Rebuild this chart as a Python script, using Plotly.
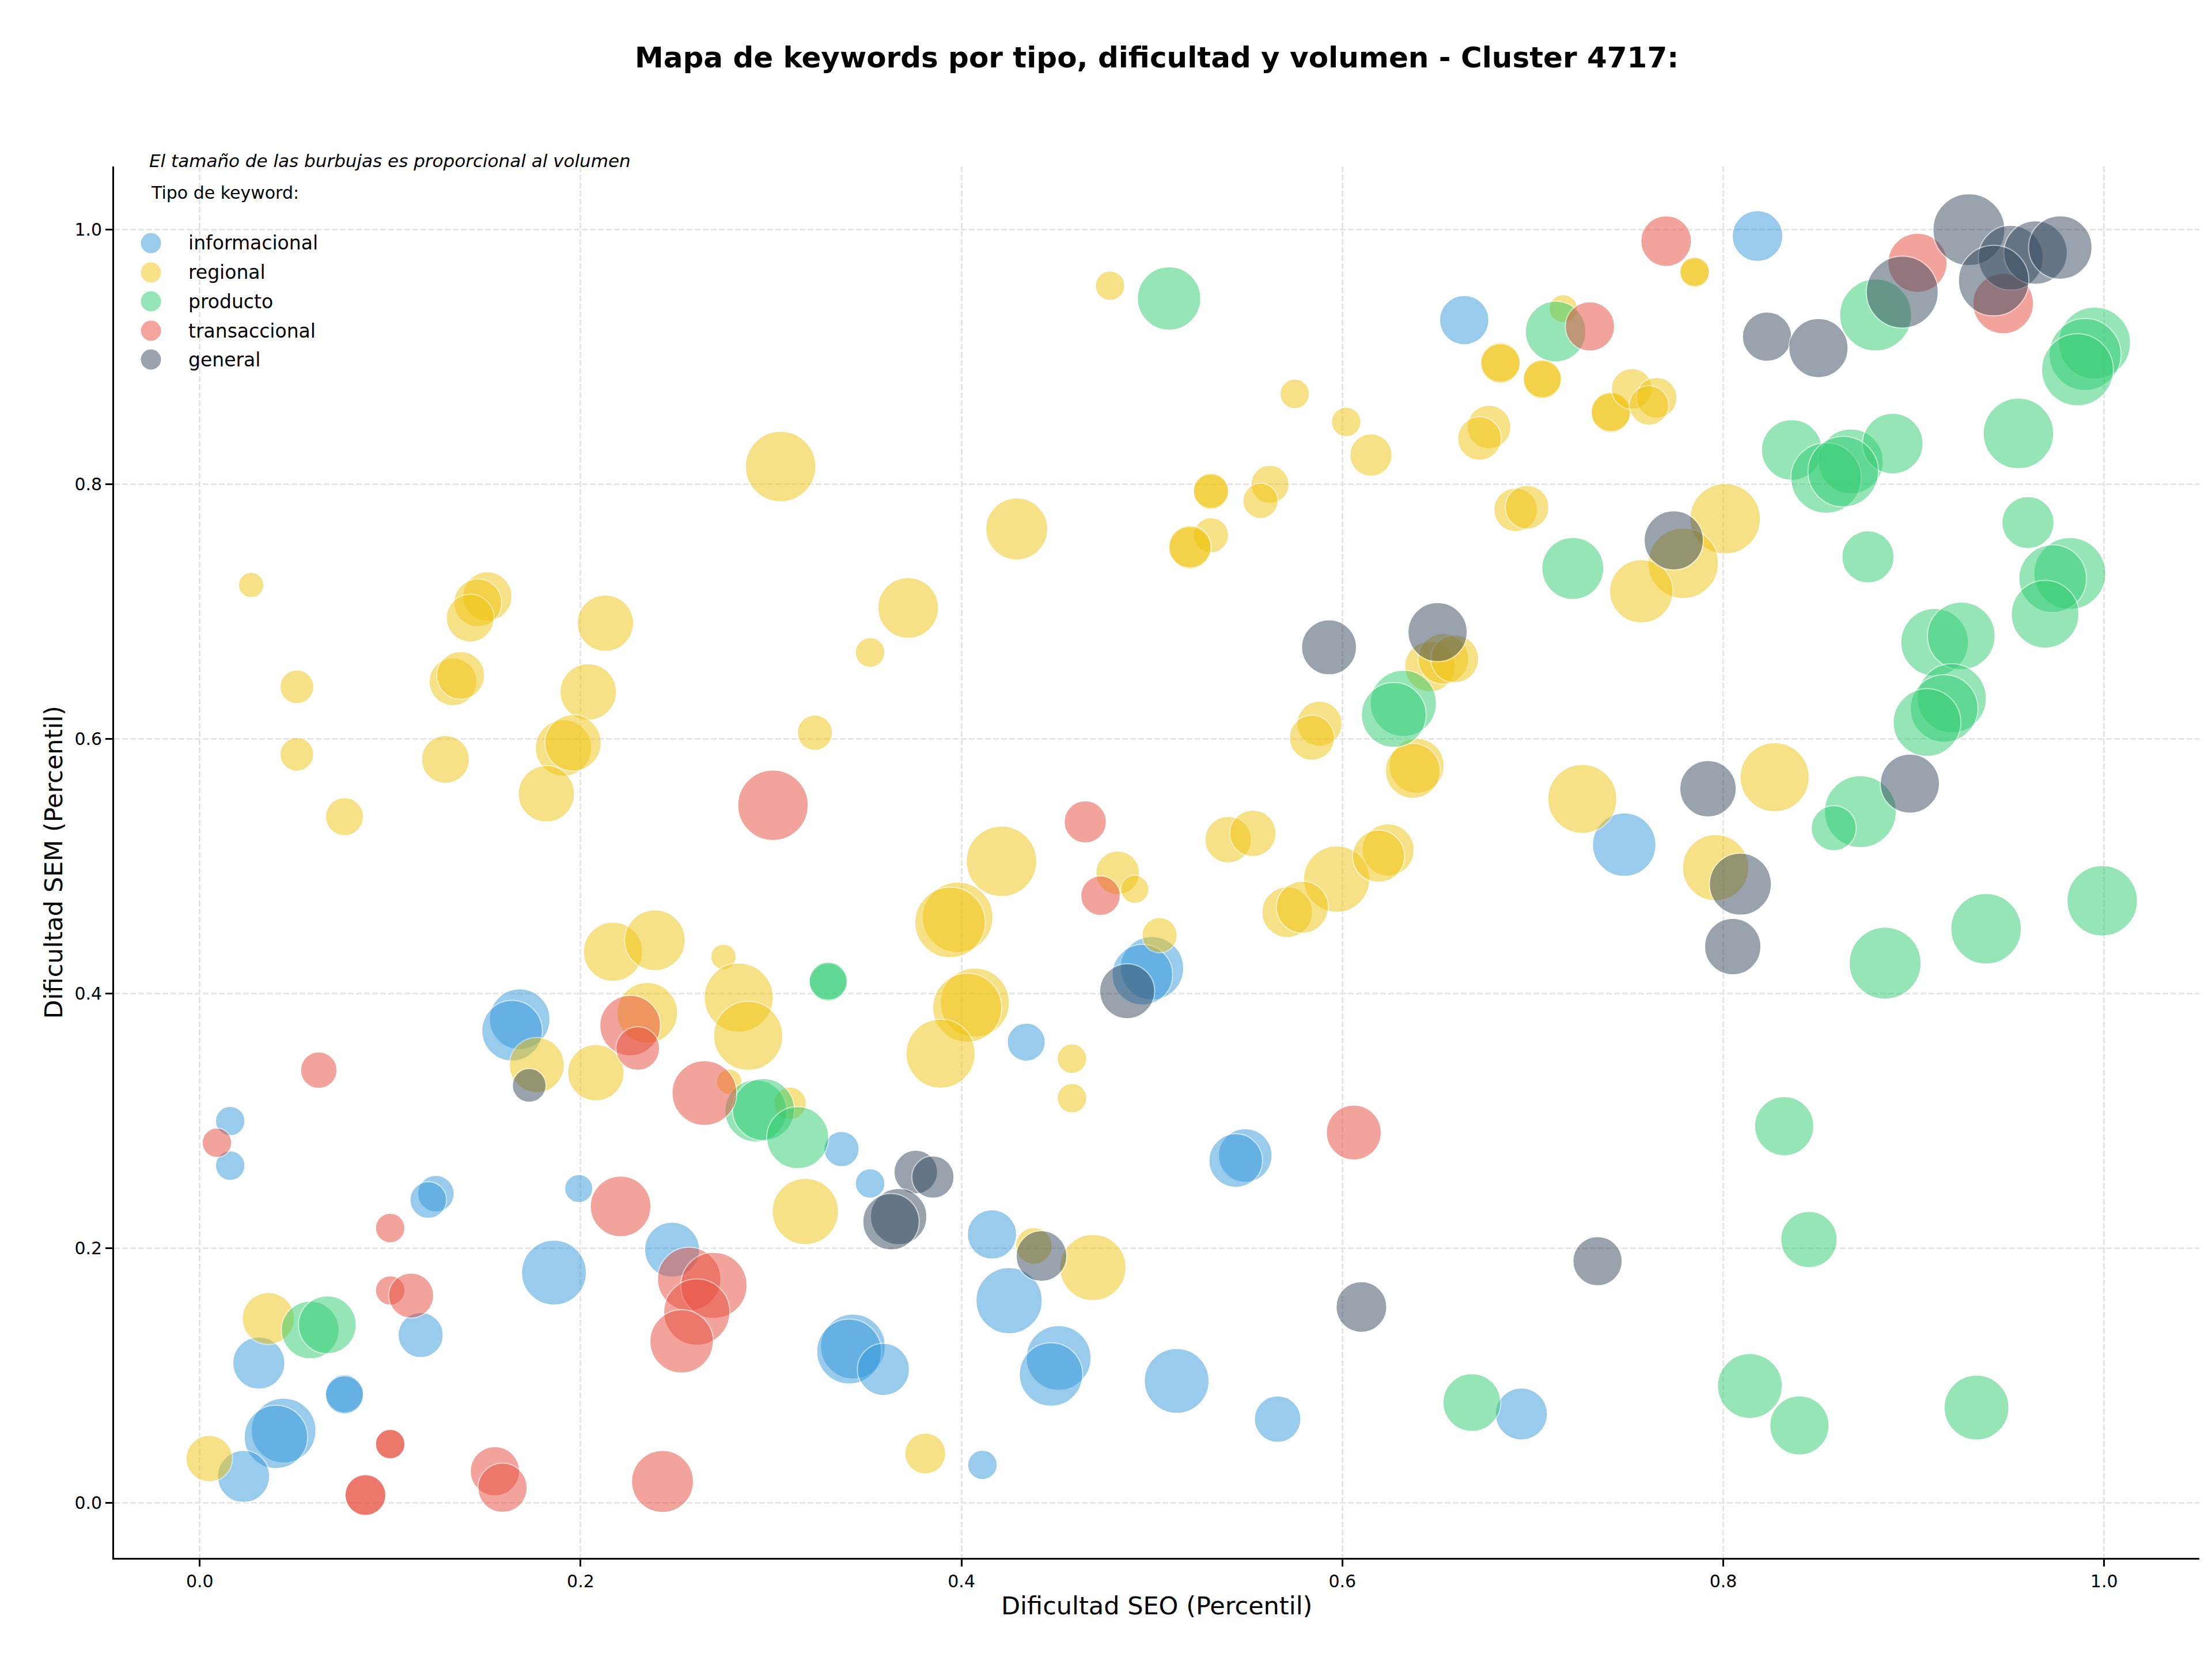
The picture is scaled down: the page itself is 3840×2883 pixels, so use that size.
import numpy as np
import plotly.graph_objects as go

# ---------------- data ----------------
categorias = ["informacional", "regional", "producto", "transaccional", "general"]
colores = ["#3498db", "#f1c40f", "#2ecc71", "#e74c3c", "#34495e"]

info_seo = [0.818, 0.664, 0.748, 0.500, 0.495, 0.434, 0.168, 0.164, 0.016, 0.016,
            0.124, 0.120, 0.199, 0.116, 0.186, 0.248, 0.031, 0.044, 0.040, 0.023,
            0.076, 0.076, 0.337, 0.352, 0.343, 0.341, 0.359, 0.416, 0.425, 0.451,
            0.447, 0.513, 0.549, 0.544, 0.411, 0.566, 0.694]
info_sem = [0.995, 0.929, 0.517, 0.420, 0.415, 0.362, 0.380, 0.371, 0.300, 0.265,
            0.243, 0.238, 0.247, 0.132, 0.181, 0.199, 0.110, 0.057, 0.052, 0.021,
            0.086, 0.085, 0.278, 0.251, 0.123, 0.119, 0.105, 0.211, 0.159, 0.114,
            0.101, 0.096, 0.273, 0.269, 0.030, 0.066, 0.070]
info_vol = [2590, 2450, 4050, 4050, 3700, 1460, 3700, 3700, 880, 880,
            1350, 1350, 800, 2050, 4230, 3040, 2740, 4230, 4050, 2740,
            1460, 1460, 1250, 880, 4230, 4230, 2740, 2450, 4420, 4230,
            4050, 4230, 2890, 2890, 880, 2180, 2740]

reg_seo = [0.478, 0.305, 0.027, 0.429, 0.372, 0.151, 0.146, 0.142, 0.213, 0.051,
           0.133, 0.137, 0.204, 0.051, 0.129, 0.191, 0.196, 0.182, 0.076, 0.323,
           0.352, 0.575, 0.602, 0.615, 0.531, 0.531, 0.562, 0.557, 0.531, 0.520,
           0.520, 0.683, 0.683, 0.705, 0.705, 0.716, 0.785, 0.785, 0.677, 0.672,
           0.741, 0.741, 0.752, 0.765, 0.761, 0.691, 0.697, 0.801, 0.779, 0.757,
           0.646, 0.653, 0.659, 0.588, 0.584, 0.639, 0.637, 0.540, 0.553, 0.597,
           0.624, 0.619, 0.571, 0.579, 0.482, 0.491, 0.421, 0.398, 0.394, 0.504,
           0.407, 0.403, 0.389, 0.458, 0.458, 0.726, 0.827, 0.796, 0.217, 0.239,
           0.275, 0.283, 0.288, 0.177, 0.208, 0.235, 0.278, 0.310, 0.318, 0.036,
           0.005, 0.438, 0.469, 0.381]
reg_sem = [0.956, 0.814, 0.721, 0.765, 0.703, 0.712, 0.707, 0.695, 0.691, 0.641,
           0.645, 0.650, 0.637, 0.588, 0.584, 0.593, 0.597, 0.557, 0.539, 0.605,
           0.668, 0.871, 0.849, 0.823, 0.794, 0.795, 0.800, 0.787, 0.760, 0.750,
           0.751, 0.896, 0.895, 0.882, 0.883, 0.938, 0.966, 0.967, 0.845, 0.836,
           0.856, 0.857, 0.875, 0.868, 0.862, 0.780, 0.782, 0.773, 0.738, 0.716,
           0.657, 0.663, 0.663, 0.612, 0.601, 0.579, 0.575, 0.521, 0.526, 0.490,
           0.513, 0.508, 0.464, 0.468, 0.495, 0.482, 0.504, 0.460, 0.456, 0.446,
           0.393, 0.389, 0.353, 0.349, 0.318, 0.553, 0.570, 0.499, 0.433, 0.442,
           0.429, 0.397, 0.367, 0.344, 0.338, 0.385, 0.331, 0.314, 0.229, 0.145,
           0.035, 0.202, 0.185, 0.039]
reg_vol = [880, 5000, 650, 3870, 3700, 2450, 2310, 2310, 3200, 1150,
           2310, 2310, 3200, 1150, 2310, 3200, 3200, 3200, 1460, 1250,
           880, 880, 880, 1800, 1250, 1250, 1460, 1250, 1250, 1800,
           1800, 1570, 1570, 1460, 1460, 800, 880, 880, 1920, 1920,
           1570, 1570, 1680, 1680, 1570, 1920, 1920, 5000, 5000, 4050,
           2590, 2590, 2310, 2050, 2050, 3040, 3040, 2180, 2180, 4420,
           2740, 2740, 2590, 2740, 1920, 800, 5000, 5000, 5000, 1250,
           4800, 4800, 4800, 880, 880, 4800, 4800, 4420, 3530, 3700,
           650, 4800, 4800, 3040, 3200, 3700, 650, 1060, 4420, 2740,
           2180, 1350, 4420, 1680]

prod_seo = [0.509, 0.712, 0.880, 0.995, 0.990, 0.986, 0.955, 0.836, 0.867, 0.889,
            0.854, 0.863, 0.960, 0.876, 0.982, 0.973, 0.969, 0.721, 0.911, 0.925,
            0.920, 0.916, 0.907, 0.872, 0.858, 0.885, 0.938, 0.999, 0.632, 0.627,
            0.330, 0.330, 0.292, 0.296, 0.314, 0.058, 0.067, 0.832, 0.845, 0.814,
            0.840, 0.933, 0.668]
prod_sem = [0.946, 0.920, 0.933, 0.911, 0.902, 0.890, 0.840, 0.827, 0.818, 0.832,
            0.805, 0.810, 0.770, 0.743, 0.730, 0.726, 0.698, 0.734, 0.676, 0.681,
            0.632, 0.624, 0.613, 0.543, 0.530, 0.424, 0.451, 0.473, 0.628, 0.619,
            0.409, 0.410, 0.308, 0.309, 0.287, 0.136, 0.140, 0.296, 0.207, 0.092,
            0.061, 0.075, 0.079]
prod_vol = [4050, 3700, 5200, 5200, 5200, 5200, 5000, 3700, 4230, 3700,
            5000, 5000, 2740, 2740, 5200, 4610, 4610, 3870, 4610, 4610,
            4800, 4610, 4610, 5200, 2050, 5200, 5000, 5000, 4420, 4230,
            1460, 1460, 3870, 3870, 3870, 3360, 3360, 3530, 3200, 4230,
            3530, 4230, 3360]

trans_seo = [0.770, 0.902, 0.947, 0.730, 0.301, 0.465, 0.473, 0.606, 0.0625, 0.226,
             0.230, 0.265, 0.009, 0.100, 0.221, 0.100, 0.111, 0.257, 0.270, 0.261,
             0.253, 0.100, 0.100, 0.087, 0.087, 0.155, 0.159, 0.243]
trans_sem = [0.991, 0.974, 0.942, 0.924, 0.548, 0.535, 0.477, 0.291, 0.340, 0.375,
             0.357, 0.322, 0.283, 0.216, 0.233, 0.167, 0.163, 0.176, 0.171, 0.150,
             0.127, 0.046, 0.0465, 0.006, 0.0065, 0.025, 0.012, 0.017]
trans_vol = [2590, 3530, 3700, 2450, 5000, 1800, 1570, 3040, 1350, 3700,
             1920, 4230, 880, 880, 3700, 880, 2050, 4050, 4420, 4420,
             4050, 880, 880, 1680, 1680, 2450, 2450, 3870]

gen_seo = [0.929, 0.951, 0.964, 0.977, 0.942, 0.894, 0.823, 0.850, 0.774, 0.650,
           0.593, 0.898, 0.792, 0.809, 0.805, 0.487, 0.173, 0.376, 0.385, 0.367,
           0.363, 0.442, 0.610, 0.734]
gen_sem = [1.000, 0.978, 0.982, 0.986, 0.960, 0.951, 0.916, 0.907, 0.756, 0.684,
           0.672, 0.565, 0.561, 0.486, 0.437, 0.402, 0.328, 0.260, 0.256, 0.225,
           0.221, 0.194, 0.154, 0.190]
gen_vol = [5200, 4230, 4050, 4050, 5000, 5200, 2450, 3530, 3530, 3530,
           3040, 3530, 3200, 3870, 3200, 3040, 1150, 1920, 1800, 3200,
           3200, 2590, 2590, 2450]

series = [
    (info_seo, info_sem, info_vol),
    (reg_seo, reg_sem, reg_vol),
    (prod_seo, prod_sem, prod_vol),
    (trans_seo, trans_sem, trans_vol),
    (gen_seo, gen_sem, gen_vol),
]

titulo = "Mapa de keywords por tipo, dificultad y volumen - Cluster 4717:"
nota = "El tamaño de las burbujas es proporcional al volumen"
titulo_leyenda = "Tipo de keyword:"
eje_x = "Dificultad SEO (Percentil)"
eje_y = "Dificultad SEM (Percentil)"

# ---------------- figure ----------------
W, H = 3840, 2883
L, R, T, B = 198, 22, 289, 179
PW, PH = W - L - R, H - T - B

def px_x(p):
    return (p - L) / PW

def px_y(p):
    return (H - B - p) / PH

SIZE_K = 1.732  # diameter (px) per sqrt(volume)
FONT = "DejaVu Sans"

fig = go.Figure()
for (sx, sy, vol), nombre, col in zip(series, categorias, colores):
    fig.add_trace(go.Scatter(
        x=sx, y=sy, mode="markers", name=nombre, showlegend=False,
        marker=dict(size=SIZE_K * np.sqrt(np.array(vol, dtype=float)),
                    sizemode="diameter", color=col, opacity=0.5,
                    line=dict(color="white", width=2)),
    ))

axis_common = dict(
    showline=True, linecolor="black", linewidth=2.7, mirror=False,
    ticks="outside", ticklen=12, tickwidth=2.7, tickcolor="black",
    tickfont=dict(family=FONT, size=30, color="black"),
    showgrid=True, gridcolor="#e6e6e6", gridwidth=2.5, griddash="10px,4px",
    zeroline=False, tick0=0, dtick=0.2, tickformat=".1f",
)

fig.update_layout(
    width=W, height=H, autosize=False,
    margin=dict(l=L, r=R, t=T, b=B, pad=0),
    paper_bgcolor="white", plot_bgcolor="white",
    font=dict(family=FONT, color="black"),
    xaxis=dict(range=[-0.045, 1.050], **axis_common),
    yaxis=dict(range=[-0.043, 1.0496], **axis_common),
    showlegend=False,
)

# title
fig.add_annotation(text=f"<b>{titulo}</b>", xref="paper", yref="paper",
                   x=0.5, y=px_y(100), xanchor="center", yanchor="middle",
                   showarrow=False, font=dict(family=FONT, size=50, color="black"))
# axis titles
fig.add_annotation(text=eje_x, xref="paper", yref="paper", x=0.5, y=px_y(2787),
                   xanchor="center", yanchor="middle", showarrow=False,
                   font=dict(family=FONT, size=43, color="black"))
fig.add_annotation(text=eje_y, xref="paper", yref="paper", x=px_x(92), y=0.5,
                   xanchor="center", yanchor="middle", textangle=-90, showarrow=False,
                   font=dict(family=FONT, size=43, color="black"))
# note and legend title
fig.add_annotation(text=f"<i>{nota}</i>", xref="paper", yref="paper",
                   x=px_x(257), y=px_y(279), xanchor="left", yanchor="middle",
                   showarrow=False, font=dict(family=FONT, size=31, color="black"))
fig.add_annotation(text=titulo_leyenda, xref="paper", yref="paper",
                   x=px_x(260), y=px_y(334), xanchor="left", yanchor="middle",
                   showarrow=False, font=dict(family=FONT, size=30, color="black"))

# custom legend (large markers)
leg_rows = [422, 473, 523, 574, 624]
for nombre, col, ry in zip(categorias, colores, leg_rows):
    fig.add_shape(type="circle", xref="paper", yref="paper",
                  xsizemode="pixel", ysizemode="pixel",
                  xanchor=px_x(262), yanchor=px_y(ry),
                  x0=-17.5, x1=17.5, y0=-17.5, y1=17.5,
                  fillcolor=col, opacity=0.5, line=dict(width=0))
    fig.add_annotation(text=nombre, xref="paper", yref="paper",
                       x=px_x(325), y=px_y(ry), xanchor="left", yanchor="middle",
                       showarrow=False, font=dict(family=FONT, size=33, color="black"))

fig.write_html("out.html")
